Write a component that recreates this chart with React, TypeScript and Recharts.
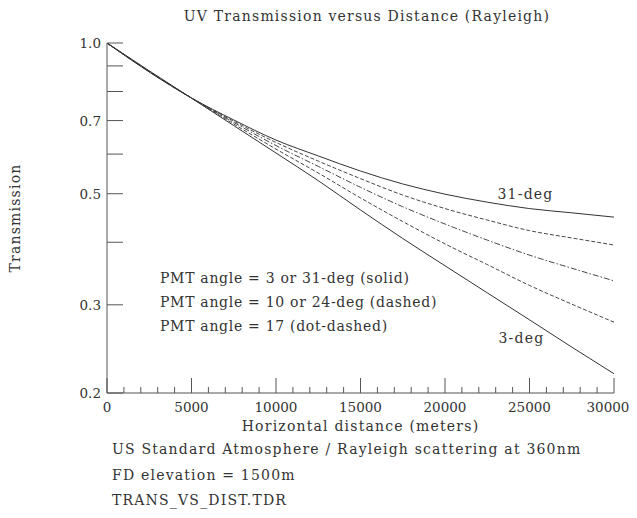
import React from 'react';
import { LineChart, Line, XAxis, YAxis } from 'recharts';

// horizontal distance in meters
const distances = [0, 2500, 5000, 7500, 10000, 12500, 15000, 17500, 20000, 22500, 25000, 27500, 30000];

// transmission for each PMT elevation angle
const deg3 = [1.0, 0.88, 0.776, 0.684, 0.603, 0.531, 0.464, 0.407, 0.359, 0.317, 0.28, 0.247, 0.2185];
const deg10 = [1.0, 0.877, 0.7765, 0.689, 0.614, 0.55, 0.4905, 0.44, 0.397, 0.361, 0.328, 0.301, 0.277];
const deg17 = [1.0, 0.877, 0.7765, 0.694, 0.624, 0.567, 0.515, 0.471, 0.435, 0.404, 0.377, 0.355, 0.335];
const deg24 = [1.0, 0.877, 0.7765, 0.698, 0.633, 0.581, 0.536, 0.497, 0.467, 0.443, 0.422, 0.408, 0.395];
const deg31 = [1.0, 0.875, 0.7765, 0.702, 0.64, 0.595, 0.555, 0.523, 0.499, 0.481, 0.467, 0.458, 0.449];

const xTicks = [
  0, 1000, 2000, 3000, 4000, 5000, 6000, 7000, 8000, 9000, 10000, 11000, 12000, 13000, 14000, 15000,
  16000, 17000, 18000, 19000, 20000, 21000, 22000, 23000, 24000, 25000, 26000, 27000, 28000, 29000, 30000,
];
const yTicks = [0.2, 0.3, 0.4, 0.5, 0.6, 0.7, 0.8, 0.9, 1.0];
const yLabeled = [0.2, 0.3, 0.5, 0.7, 1.0];

const notes = [
  'US Standard Atmosphere / Rayleigh scattering at 360nm',
  'FD elevation = 1500m',
  'TRANS_VS_DIST.TDR',
];
const legendLines = [
  'PMT angle = 3 or 31-deg (solid)',
  'PMT angle = 10 or 24-deg (dashed)',
  'PMT angle = 17 (dot-dashed)',
];

const data = distances.map((d, i) => ({
  d,
  deg3: deg3[i],
  deg10: deg10[i],
  deg17: deg17[i],
  deg24: deg24[i],
  deg31: deg31[i],
}));

const W = 629;
const H = 502;
const CHART_H = 420;
const INK = '#333';
const AXIS = '#555';
const FONT = '"DejaVu Serif", serif';
const FS = 14;
const TICK_FS = 13.5;

function BottomTick(props: any) {
  const { x, y, payload } = props;
  const major = payload.value % 5000 === 0;
  // keep the last label inside the page
  const dx = payload.value === 30000 ? -6 : 0;
  return (
    <g>
      <line x1={x} x2={x} y1={y} y2={y - (major ? 15 : 6)} stroke={AXIS} />
      {major && (
        <text x={x + dx} y={y + 14} textAnchor="middle" dominantBaseline="central"
          fontFamily={FONT} fontSize={TICK_FS} fill={INK}>
          {payload.value}
        </text>
      )}
    </g>
  );
}

function TopTick(props: any) {
  const { x, y, payload } = props;
  const major = payload.value % 5000 === 0;
  return <line x1={x} x2={x} y1={y} y2={y + (major ? 15 : 6)} stroke={AXIS} />;
}

function LeftTick(props: any) {
  const { x, y, payload } = props;
  const labeled = yLabeled.some(v => Math.abs(v - payload.value) < 1e-6);
  return (
    <g>
      <line x1={x} x2={x + 16} y1={y} y2={y} stroke={AXIS} />
      {labeled && (
        <text x={x - 6} y={y} textAnchor="end" dominantBaseline="central"
          fontFamily={FONT} fontSize={TICK_FS} fill={INK}>
          {payload.value.toFixed(1)}
        </text>
      )}
    </g>
  );
}

function RightTick(props: any) {
  const { x, y } = props;
  return <line x1={x} x2={x - 16} y1={y} y2={y} stroke={AXIS} />;
}

export default function App() {
  const txt = { fontFamily: FONT, fontSize: FS, fill: INK, letterSpacing: 1.2 };
  const pmt = { ...txt, letterSpacing: 0.7 };
  return (
    <div style={{ position: 'relative', width: W, height: H }}>
      <LineChart width={W} height={CHART_H} data={data}
        margin={{ top: 35, right: 23, bottom: 5, left: 39 }}>
        <XAxis xAxisId="bottom" dataKey="d" type="number" domain={[0, 30000]} ticks={xTicks}
          interval={0} tickSize={0} tickMargin={0} height={30} tick={<BottomTick />}
          axisLine={{ stroke: AXIS }} tickLine={false} />
        <XAxis xAxisId="top" orientation="top" type="number" domain={[0, 30000]} ticks={xTicks}
          interval={0} tickSize={0} tickMargin={0} height={0} tick={<TopTick />}
          axisLine={{ stroke: AXIS }} tickLine={false} />
        <YAxis yAxisId="left" type="number" scale="log" domain={[0.2, 1]} allowDataOverflow
          ticks={yTicks} interval={0} tickSize={0} tickMargin={0} width={60} tick={<LeftTick />}
          axisLine={{ stroke: AXIS }} tickLine={false} />
        <YAxis yAxisId="right" orientation="right" type="number" scale="log" domain={[0.2, 1]}
          allowDataOverflow ticks={yTicks} interval={0} tickSize={0} tickMargin={0} width={0}
          tick={<RightTick />} axisLine={{ stroke: AXIS }} tickLine={false} />
        <Line xAxisId="bottom" yAxisId="left" type="monotone" dataKey="deg3" stroke={INK}
          strokeWidth={1} dot={false} isAnimationActive={false} />
        <Line xAxisId="bottom" yAxisId="left" type="monotone" dataKey="deg10" stroke={INK}
          strokeWidth={0.9} strokeDasharray="4 2" dot={false} isAnimationActive={false} />
        <Line xAxisId="bottom" yAxisId="left" type="monotone" dataKey="deg17" stroke={INK}
          strokeWidth={0.9} strokeDasharray="6 2 1.5 2" dot={false} isAnimationActive={false} />
        <Line xAxisId="bottom" yAxisId="left" type="monotone" dataKey="deg24" stroke={INK}
          strokeWidth={0.9} strokeDasharray="4 2" dot={false} isAnimationActive={false} />
        <Line xAxisId="bottom" yAxisId="left" type="monotone" dataKey="deg31" stroke={INK}
          strokeWidth={1} dot={false} isAnimationActive={false} />
      </LineChart>
      <svg width={W} height={H} style={{ position: 'absolute', left: 0, top: 0, pointerEvents: 'none' }}>
        <text x={359} y={8} textAnchor="middle" dominantBaseline="central" {...txt}>
          UV Transmission versus Distance (Rayleigh)
        </text>
        <text x={352.5} y={418} textAnchor="middle" dominantBaseline="central" {...txt}>
          Horizontal distance (meters)
        </text>
        <text x={7} y={210} textAnchor="middle" dominantBaseline="central" transform="rotate(-90 7 210)" {...txt}>
          Transmission
        </text>
        {legendLines.map((s, i) => (
          <text key={s} x={152} y={270 + i * 24} dominantBaseline="central" {...pmt}>{s}</text>
        ))}
        <text x={489.5} y={186} dominantBaseline="central" {...txt}>31-deg</text>
        <text x={490.5} y={330} dominantBaseline="central" {...txt}>3-deg</text>
        {notes.map((s, i) => (
          <text key={s} x={104} y={441 + i * 25.5} dominantBaseline="central" {...txt}>{s}</text>
        ))}
      </svg>
    </div>
  );
}
